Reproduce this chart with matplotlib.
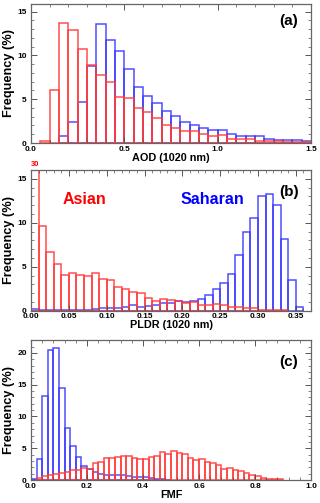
import numpy as np
import matplotlib
matplotlib.use('Agg')
import matplotlib.pyplot as plt
from matplotlib.ticker import MultipleLocator

plt.rcParams['font.family'] = ['Liberation Sans', 'DejaVu Sans']
plt.rcParams['font.weight'] = 'bold'

RED = '#ff3b3b'
BLUE = '#3b3bff'

# (a) AOD at 1020 nm, bins of 0.05 starting at 0.0
aod_width = 0.05
aod_asian = [0.0, 0.2, 6.0, 13.75, 12.9, 10.75, 8.9, 7.8, 7.0, 5.3, 5.1, 4.05, 3.5, 2.8, 2.0,
             1.75, 1.35, 1.35, 1.0, 0.85, 0.9, 0.5, 0.45, 0.4, 0.25, 0.2, 0.2, 0.15, 0.15, 0.1]
aod_sahara = [0.0, 0.0, 0.0, 0.85, 2.4, 4.7, 8.75, 13.55, 11.8, 10.55, 8.4, 6.35, 5.4, 4.55, 3.7,
              3.1, 2.4, 2.0, 1.7, 1.45, 1.45, 1.05, 0.85, 0.75, 0.75, 0.45, 0.35, 0.35, 0.3, 0.25]

# (b) PLDR at 1020 nm, bins of 0.01
pldr_width = 0.01
pldr_asian = [30.0, 9.66, 6.65, 5.3, 4.07, 4.26, 4.07, 3.95, 4.26, 3.65, 3.46, 2.7, 2.5, 2.17, 2.0,
              1.4, 1.1, 1.3, 1.2, 1.1, 0.9, 0.95, 0.7, 0.7, 0.75, 0.7, 0.45, 0.4, 0.3, 0.3,
              0.1, 0.1, 0.05, 0.05, 0.0, 0.0]
pldr_sahara = [0.25, 0.05, 0.05, 0.05, 0.05, 0.05, 0.05, 0.1, 0.15, 0.3, 0.3, 0.35, 0.45, 0.7, 0.4,
               0.55, 0.6, 0.85, 0.85, 1.15, 1.0, 1.15, 1.3, 1.8, 2.5, 3.2, 4.2, 6.3, 9.0, 10.5,
               13.1, 13.3, 12.0, 8.1, 3.45, 0.45]

# (c) FMF, bins of 0.02
fmf_width = 0.02
fmf_asian = [0.0, 0.3, 0.7, 0.85, 0.95, 1.15, 1.2, 1.55, 1.6, 1.9, 1.8, 2.6, 2.9, 3.5, 3.5,
             3.65, 3.8, 3.7, 3.5, 3.3, 3.3, 3.55, 3.8, 4.35, 4.1, 4.55, 4.3, 4.15, 3.4, 3.1,
             3.3, 2.8, 2.6, 2.35, 1.8, 1.9, 1.5, 1.4, 1.1, 0.8, 0.6, 0.35, 0.15, 0.15, 0.1,
             0.0, 0.0, 0.0, 0.0, 0.0]
fmf_sahara = [0.1, 3.25, 13.2, 20.4, 20.8, 14.4, 8.2, 5.3, 3.6, 2.25, 1.8, 1.2, 0.9, 0.85, 0.8,
              0.75, 0.8, 0.6, 0.55, 0.5, 0.4, 0.35, 0.2, 0.1, 0.05, 0.0, 0.0, 0.0, 0.0, 0.0,
              0.0, 0.0, 0.0, 0.0, 0.0, 0.0, 0.0, 0.0, 0.0, 0.0, 0.0, 0.0, 0.0, 0.0, 0.0,
              0.0, 0.0, 0.0, 0.0, 0.0]


def outline_hist(ax, vals, width, color):
    vals = np.asarray(vals)
    left = np.arange(len(vals)) * width
    keep = vals > 0
    ax.bar(left[keep], vals[keep], width=width, align='edge', fill=False,
           edgecolor=color, linewidth=1.1, alpha=0.9)


def style(ax, xlim, ylim, xmaj, xmin, ymaj, ymin, xfmt, xlabel):
    ax.set_xlim(*xlim)
    ax.set_ylim(*ylim)
    ax.xaxis.set_major_locator(MultipleLocator(xmaj))
    ax.xaxis.set_minor_locator(MultipleLocator(xmin))
    ax.yaxis.set_major_locator(MultipleLocator(ymaj))
    ax.yaxis.set_minor_locator(MultipleLocator(ymin))
    ax.xaxis.set_major_formatter(plt.FormatStrFormatter(xfmt))
    ax.tick_params(which='both', direction='in', top=True, right=True,
                   labelsize=6, color='#555555')
    ax.tick_params(axis='x', pad=2)
    ax.tick_params(axis='y', pad=3)
    ax.tick_params(which='major', length=4, width=0.7)
    ax.tick_params(which='minor', length=2, width=0.5)
    for s in ax.spines.values():
        s.set_color('#666666')
        s.set_linewidth(0.9)
    for lab in ax.get_xticklabels() + ax.get_yticklabels():
        lab.set_fontweight('bold')
    ax.set_xlabel(xlabel, fontsize=7.8, fontweight='bold', labelpad=0)
    ax.set_ylabel('Frequency (%)', fontsize=9.2, fontweight='bold', labelpad=2)


fig = plt.figure(figsize=(3.2, 5.03), dpi=100)

ax1 = fig.add_axes([0.097, 0.7157, 0.875, 0.277])
outline_hist(ax1, aod_sahara, aod_width, BLUE)
outline_hist(ax1, aod_asian, aod_width, RED)
style(ax1, (0, 1.5), (0, 15.9), 0.5, 0.1, 5, 1, '%.1f', 'AOD (1020 nm)')
ax1.text(0.92, 0.874, '(a)', transform=ax1.transAxes, ha='center', va='center',
         fontsize=11, fontweight='bold')

ax2 = fig.add_axes([0.097, 0.3823, 0.875, 0.2797])
outline_hist(ax2, pldr_sahara, pldr_width, BLUE)
outline_hist(ax2, pldr_asian, pldr_width, RED)
style(ax2, (0, 0.37), (0, 16), 0.05, 0.01, 5, 1, '%.2f', 'PLDR (1020 nm)')
ax2.text(pldr_width / 2, 16.2, '%d' % pldr_asian[0], color='red', ha='center', va='bottom',
         fontsize=5.5, fontweight='bold')
ax2.text(0.07, 12.6, 'Asian', color='red', ha='center', va='center', fontsize=11.5, fontweight='bold')
ax2.text(0.24, 12.6, 'Saharan', color='blue', ha='center', va='center', fontsize=11.5, fontweight='bold')
ax2.text(0.92, 0.847, '(b)', transform=ax2.transAxes, ha='center', va='center',
         fontsize=11, fontweight='bold')

ax3 = fig.add_axes([0.097, 0.0457, 0.875, 0.278])
outline_hist(ax3, fmf_sahara, fmf_width, BLUE)
outline_hist(ax3, fmf_asian, fmf_width, RED)
style(ax3, (0, 1.0), (0, 22), 0.2, 0.04, 5, 1, '%.1f', 'FMF')
ax3.text(0.92, 0.845, '(c)', transform=ax3.transAxes, ha='center', va='center',
         fontsize=11, fontweight='bold')

fig.savefig('out.png', dpi=100)
